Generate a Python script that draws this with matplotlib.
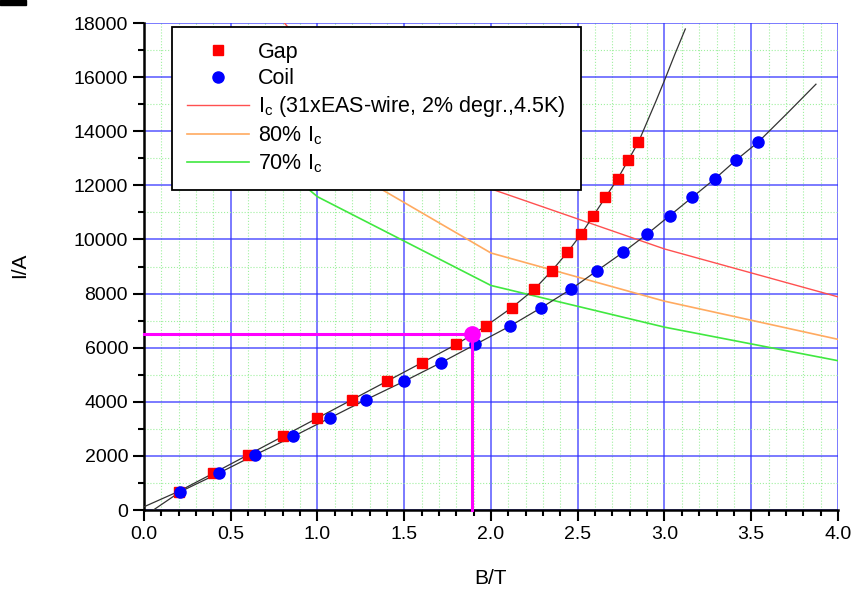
import numpy as np
import matplotlib
matplotlib.use('Agg')
from matplotlib import pyplot as plt
from matplotlib.patches import Rectangle
from matplotlib.ticker import MultipleLocator

plt.rcParams['font.family'] = ['Liberation Sans', 'DejaVu Sans']
plt.rcParams['mathtext.fontset'] = 'custom'
plt.rcParams['mathtext.rm'] = 'Liberation Sans'
plt.rcParams['mathtext.it'] = 'Liberation Sans'
fontsize = 14

# measured points (B in T, I in A)
gap_B = [0.20, 0.40, 0.60, 0.80, 1.00, 1.20, 1.40, 1.60, 1.80, 1.97,
         2.12, 2.25, 2.35, 2.44, 2.52, 2.59, 2.66, 2.73, 2.79, 2.85]
gap_I = [680, 1360, 2040, 2720, 3400, 4080, 4760, 5440, 6120, 6800,
         7480, 8160, 8840, 9520, 10200, 10880, 11560, 12240, 12920, 13600]
coil_B = [0.21, 0.43, 0.64, 0.86, 1.07, 1.28, 1.50, 1.71, 1.91, 2.11,
          2.29, 2.46, 2.61, 2.76, 2.90, 3.03, 3.16, 3.29, 3.41, 3.54]
coil_I = gap_I

# fitted curves through the points
gap_fit_B = [0.0, 0.2, 0.4, 0.6, 0.8, 1.0, 1.2, 1.4, 1.6, 1.8, 1.97, 2.12, 2.25,
             2.35, 2.44, 2.52, 2.59, 2.66, 2.73, 2.79, 2.85, 2.90, 2.95, 3.00, 3.06, 3.12]
gap_fit_I = [120, 690, 1360, 2040, 2720, 3400, 4080, 4760, 5440, 6120, 6800, 7480, 8160,
             8840, 9520, 10200, 10880, 11560, 12240, 12920, 13600, 14350, 15100, 15880, 16850, 17780]
coil_fit_B = [0.054, 0.21, 0.43, 0.64, 0.86, 1.07, 1.28, 1.50, 1.71, 1.91, 2.11,
              2.29, 2.46, 2.61, 2.76, 2.90, 3.03, 3.16, 3.29, 3.41, 3.54, 3.71, 3.873]
coil_fit_I = [0, 680, 1360, 2040, 2720, 3400, 4080, 4760, 5440, 6120, 6800,
              7480, 8160, 8840, 9520, 10200, 10880, 11560, 12240, 12920, 13600, 14680, 15740]

# critical current lines
ic_B = [0.5, 1.0, 2.0, 3.0, 4.0]
ic_I = [20380, 16540, 11870, 9650, 7880]
ic80_I = [16300, 13230, 9500, 7720, 6310]
ic70_I = [14270, 11580, 8300, 6760, 5520]

# operating point
op_B = 1.89
op_I = 6500

fig = plt.figure(figsize=(8.55, 5.91), dpi=100)
ax = fig.add_axes([0.1684, 0.137, 0.9801 - 0.1684, 0.961 - 0.137])
fig.patches.append(Rectangle((0, 0.992), 0.03, 0.008, transform=fig.transFigure,
                             color='black', zorder=10))

ax.plot(gap_fit_B, gap_fit_I, color='#333333', lw=0.9, zorder=3)
ax.plot(coil_fit_B, coil_fit_I, color='#333333', lw=0.9, zorder=3)
ax.plot(gap_B, gap_I, 's', color='#ff0000', ms=7.5, mec='#ff0000', zorder=4, label='Gap')
ax.plot(coil_B, coil_I, 'o', color='#0000ff', ms=8, mec='#0000ff', zorder=4, label='Coil')
ax.plot(ic_B, ic_I, color='#ff5050', lw=1.0, zorder=2,
        label='I$_\\mathregular{c}$ (31xEAS-wire, 2% degr.,4.5K)')
ax.plot(ic_B, ic80_I, color='#ffaa60', lw=1.2, zorder=2, label='80% I$_\\mathregular{c}$')
ax.plot(ic_B, ic70_I, color='#40e840', lw=1.2, zorder=2, label='70% I$_\\mathregular{c}$')

ax.plot([0, op_B, op_B], [op_I, op_I, 0], color='#ff00ff', lw=2.2, zorder=5, clip_on=False)
ax.plot([op_B], [op_I], 'o', color='#ff00ff', ms=11, zorder=6)

ax.set_xlim(0, 4)
ax.set_ylim(0, 18000)
ax.xaxis.set_major_locator(MultipleLocator(0.5))
ax.xaxis.set_minor_locator(MultipleLocator(0.1))
ax.yaxis.set_major_locator(MultipleLocator(2000))
ax.yaxis.set_minor_locator(MultipleLocator(1000))
ax.xaxis.set_major_formatter(matplotlib.ticker.FormatStrFormatter('%.1f'))

ax.grid(which='major', color='#3030ff', lw=1.2, alpha=0.75, zorder=0)
ax.grid(which='minor', color='#a0f0a0', lw=0.8, ls=':', zorder=0)
ax.set_axisbelow(True)

ax.spines['top'].set_visible(False)
ax.spines['right'].set_visible(False)
ax.spines['left'].set_linewidth(1.8)
ax.spines['bottom'].set_linewidth(1.8)
ax.tick_params(which='major', direction='out', length=8, width=1.5, labelsize=fontsize)
ax.tick_params(which='minor', direction='out', length=4.5, width=1.5)

ax.set_xlabel('B/T', fontsize=15)
ax.set_ylabel('I/A', fontsize=15)
ax.xaxis.set_label_coords(0.4986, -0.122)
ax.yaxis.set_label_coords(-0.165, 0.503)

leg = ax.legend(loc='upper left', bbox_to_anchor=(0.04, 0.992), borderaxespad=0,
                fontsize=15.5, fancybox=False, framealpha=1, edgecolor='black',
                handlelength=2.9, handletextpad=0.4, labelspacing=0.24, borderpad=0.7,
                numpoints=1)
leg.get_frame().set_linewidth(1.3)
leg.set_zorder(8)

fig.savefig('out.png', dpi=100)
